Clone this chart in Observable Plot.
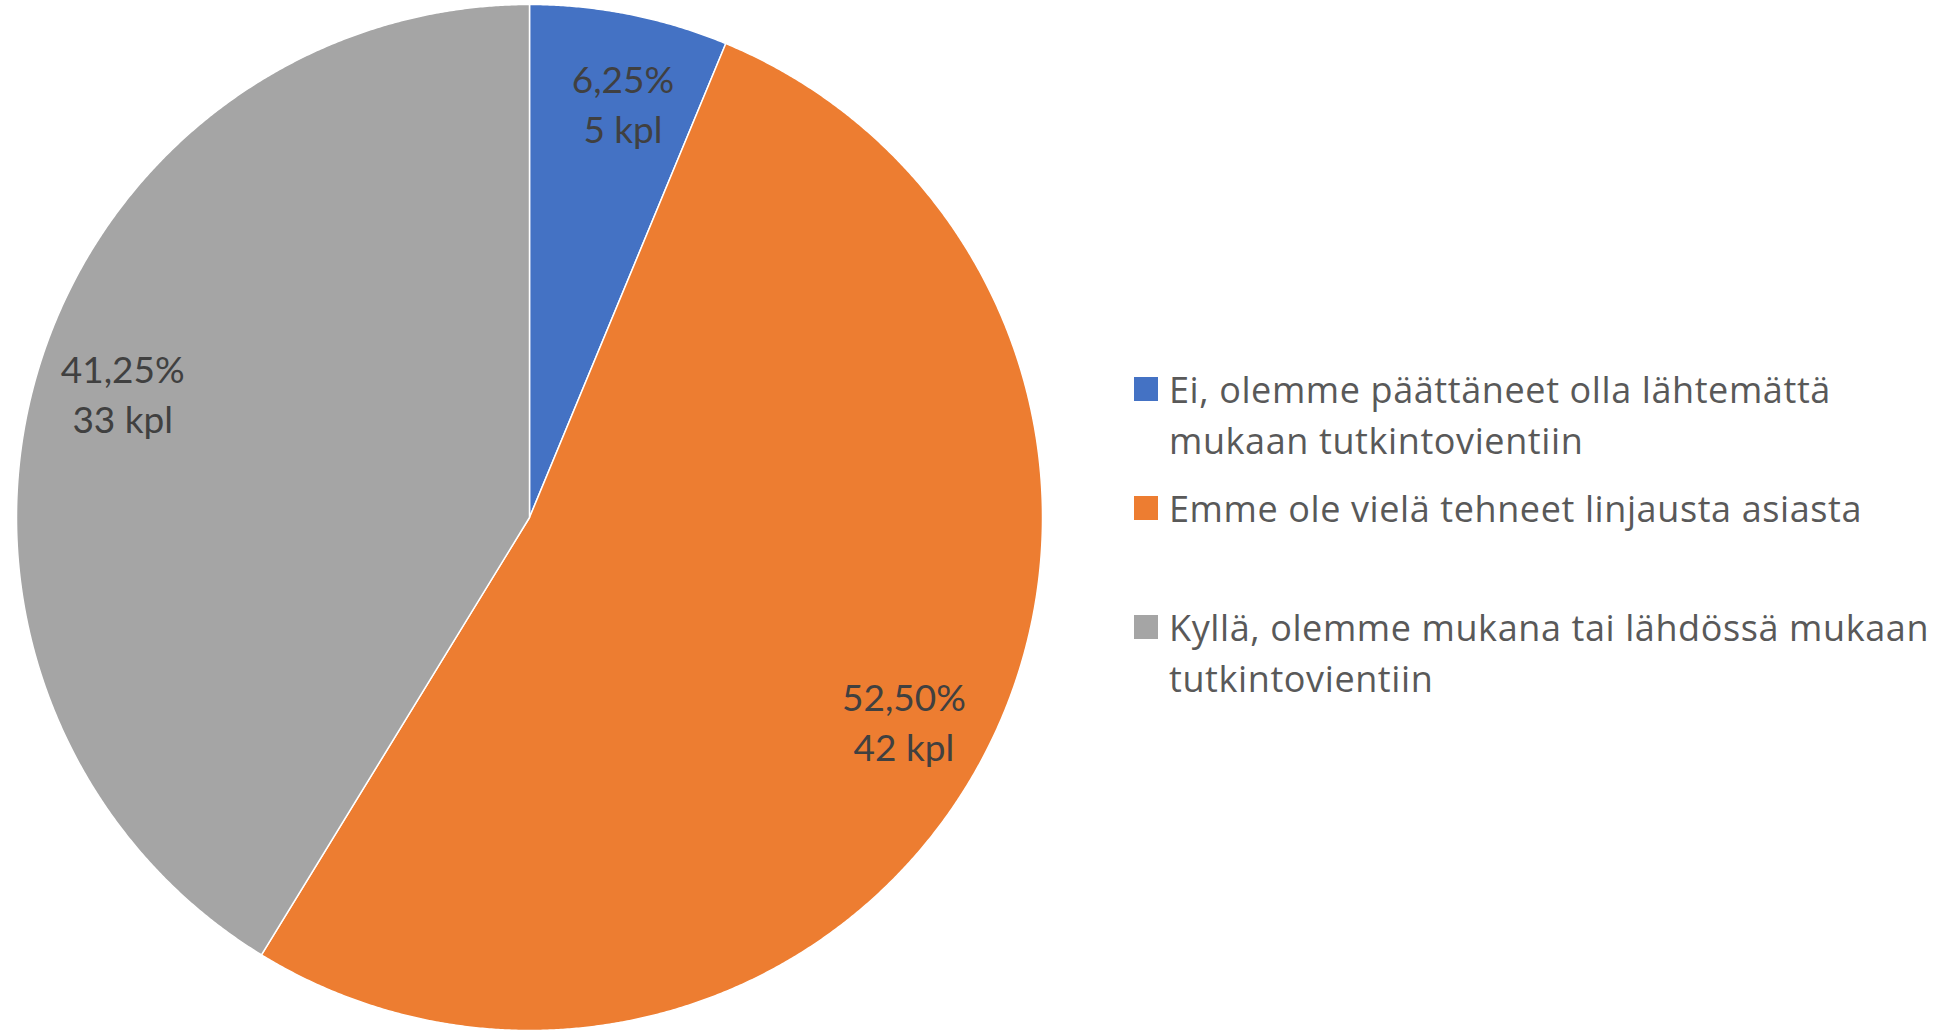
<!DOCTYPE html>
<html><head><meta charset="utf-8">
<script src="https://cdn.jsdelivr.net/npm/d3@7"></script>
<script src="https://cdn.jsdelivr.net/npm/@observablehq/plot@0.6"></script>
<style>
html,body{margin:0;padding:0;background:#fff;}
#wrap{position:relative;width:1954px;height:1031px;overflow:hidden;}
#chart{position:absolute;left:0;top:0;}
#legend{position:absolute;left:1134px;top:0;font-family:"Open Sans", sans-serif;font-size:36px;letter-spacing:0.6px;color:#595959;}
.item{position:absolute;left:0;white-space:pre;line-height:51px;}
.sw{position:absolute;left:0;top:13.5px;width:24px;height:24px;}
.lbl{position:absolute;left:35px;top:0;}
</style></head><body><div id="wrap"><div id="chart"></div><div id="legend"></div></div>
<script>
const categories = ["Ei, olemme päättäneet olla lähtemättä mukaan tutkintovientiin", "Emme ole vielä tehneet linjausta asiasta", "Kyllä, olemme mukana tai lähdössä mukaan tutkintovientiin"];
const legendLabels = ["Ei, olemme päättäneet olla lähtemättä\nmukaan tutkintovientiin", "Emme ole vielä tehneet linjausta asiasta", "Kyllä, olemme mukana tai lähdössä mukaan\ntutkintovientiin"];
const counts = [5, 42, 33];
const percentLabels = ["6,25%", "52,50%", "41,25%"];
const colors = ["#4472C4", "#ED7D31", "#A5A5A5"];

const pie = d3.pie().sort(null).value(d => d)(counts);
const pts = [];
pie.forEach((p, i) => {
  const n = Math.max(2, Math.ceil((p.endAngle - p.startAngle) / (Math.PI / 720)));
  pts.push({cat: categories[i], x: 0, y: 0});
  for (let k = 0; k <= n; k++) {
    const a = p.startAngle + (p.endAngle - p.startAngle) * k / n;
    pts.push({cat: categories[i], x: Math.sin(a), y: Math.cos(a)});
  }
  pts.push({cat: categories[i], x: 0, y: 0});
});
const labels = pie.map((p, i) => {
  const a = (p.startAngle + p.endAngle) / 2 + 0.025;
  return {x: 0.83 * Math.sin(a), y: 0.83 * Math.cos(a), text: percentLabels[i] + "\n" + counts[i] + " kpl"};
});

const chart = Plot.plot({
  width: 1060, height: 1031, margin: 0,
  style: {fontFamily: "Lato, sans-serif", background: "white"},
  x: {domain: [-1, 1], range: [16, 1042], axis: null},
  y: {domain: [-1, 1], range: [1030, 4], axis: null},
  color: {domain: categories, range: colors},
  marks: [
    Plot.line(pts, {x: "x", y: "y", z: "cat", fill: "cat", stroke: "white", strokeWidth: 1.5, curve: "linear"}),
    Plot.text(labels, {x: "x", y: "y", text: "text", fontSize: 37, lineHeight: 1.35, fill: "#404040"})
  ]
});
document.getElementById("chart").appendChild(chart);

const legend = document.getElementById("legend");
legendLabels.forEach((l, i) => {
  const item = document.createElement("div");
  item.className = "item";
  item.style.top = (363.5 + i * 119) + "px";
  const sw = document.createElement("div");
  sw.className = "sw";
  sw.style.background = chart.scale("color").apply(categories[i]);
  const lb = document.createElement("div");
  lb.className = "lbl";
  lb.textContent = l;
  item.appendChild(sw); item.appendChild(lb);
  legend.appendChild(item);
});
</script></body></html>
